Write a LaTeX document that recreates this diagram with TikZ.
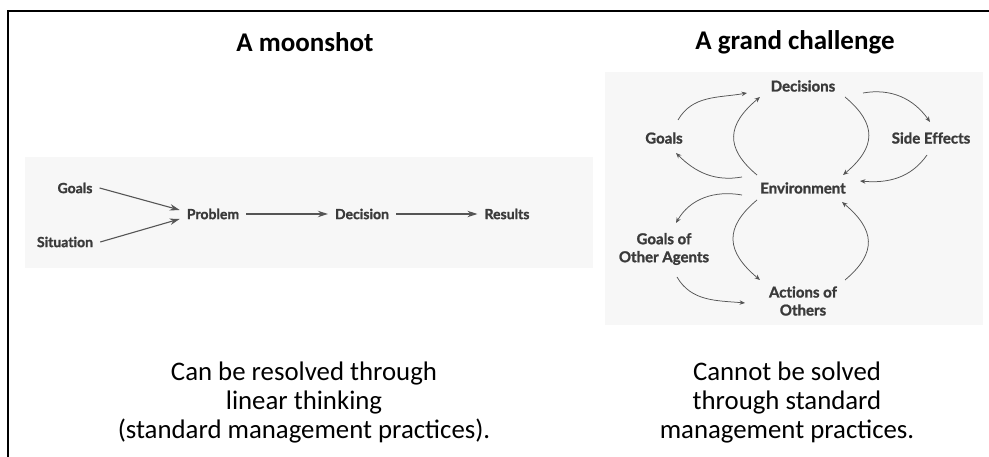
\documentclass[tikz,border=0pt]{standalone}
\usepackage{fontspec}
\setmainfont{Carlito}
\newfontfamily\gill{Lato}[Ligatures=NoCommon, BoldFeatures={FakeBold=1.3}]
\usetikzlibrary{arrows.meta,calc}
\definecolor{lbl}{HTML}{3A3A3A}
\definecolor{arr}{HTML}{555555}
\definecolor{bgc}{HTML}{F7F7F7}
\begin{document}
\begin{tikzpicture}[x=1pt,y=1pt,
  title/.style={font=\fontsize{27}{30}\selectfont\bfseries, text=black},
  caption/.style={font=\fontsize{26.8}{29}\selectfont, align=center, text=black},
  lnode/.style={font=\gill\fontsize{14}{16}\selectfont\bfseries, text=lbl, inner sep=7pt},
  rnode/.style={font=\gill\fontsize{15}{18}\selectfont\bfseries, text=lbl, inner sep=0pt, align=center},
  larr/.style={draw=arr, line width=1.1pt, -{Stealth[length=10pt,width=6.5pt]}},
  rarr/.style={draw=arr, line width=0.75pt, -{Stealth[length=5.5pt,width=4.5pt]}},
]
\useasboundingbox (0,0) rectangle (989,457);
\fill[bgc] (25,189) rectangle (593,300);
\fill[bgc] (605,132) rectangle (983,385);
\draw[line width=2.5pt, line join=miter] (8,0) -- (8,446) -- (989,446);

\node[title] (t1) at (305,415) {A moonshot};
\node[title] (t2) at (795,415) {A grand challenge};

\node[caption] (c1) at (304,54.5) {Can be resolved through\\linear thinking\\(standard management practices).};
\node[caption] (c2) at (787,54.5) {Cannot be solved\\through standard\\management practices.};

% left diagram
\node[lnode] (lgoals) at (75,269) {Goals};
\node[lnode] (lsit) at (65,215) {Situation};
\node[lnode] (prob) at (213,243) {Problem};
\node[lnode] (decis) at (362,243) {Decision};
\node[lnode] (res) at (507,243) {Results};
\draw[larr] (lgoals.east) -- ([yshift=4pt]prob.west);
\draw[larr] (lsit.east) -- ([yshift=-5pt]prob.west);
\draw[larr] (prob.east) -- (decis.west);
\draw[larr] (decis.east) -- (res.west);

% right diagram
\node[rnode] (dec) at (803,371) {Decisions};
\node[rnode] (goals) at (664,319) {Goals};
\node[rnode] (side) at (931,319) {Side Effects};
\node[rnode] (env) at (803,269) {Environment};
\node[rnode] (goa) at (664,208) {Goals of\\Other Agents};
\node[rnode] (act) at (803,156) {Actions of\\Others};

\draw[rarr] ([shift={(14,18)}]goals.center) to[out=60,in=190] ([shift={(-56,-7)}]dec.center);
\draw[rarr] ([shift={(-61,11)}]env.center) to[out=190,in=-45] ([shift={(12,-15)}]goals.center);
\draw[rarr] ([shift={(-46,13)}]env.center) to[out=140,in=220,looseness=1.4] ([shift={(-43,-11)}]dec.center);
\draw[rarr] ([shift={(42,-11)}]dec.center) to[out=-40,in=40,looseness=1.4] ([shift={(40,13)}]env.center);
\draw[rarr] ([shift={(60,-7)}]dec.center) to[out=10,in=125] ([shift={(-1,16)}]side.center);
\draw[rarr] ([shift={(-4,-17)}]side.center) to[out=235,in=-5] ([shift={(57,7)}]env.center);
\draw[rarr] ([shift={(-61,-7)}]env.center) to[out=170,in=60] ([shift={(12,26)}]goa.center);
\draw[rarr] ([shift={(-46,-12)}]env.center) to[out=220,in=140,looseness=1.4] ([shift={(-43,21)}]act.center);
\draw[rarr] ([shift={(42,21)}]act.center) to[out=40,in=-40,looseness=1.4] ([shift={(39,-14)}]env.center);
\draw[rarr] ([shift={(13,-28)}]goa.center) to[out=-60,in=175] ([shift={(-58,-2)}]act.center);
\end{tikzpicture}
\end{document}
